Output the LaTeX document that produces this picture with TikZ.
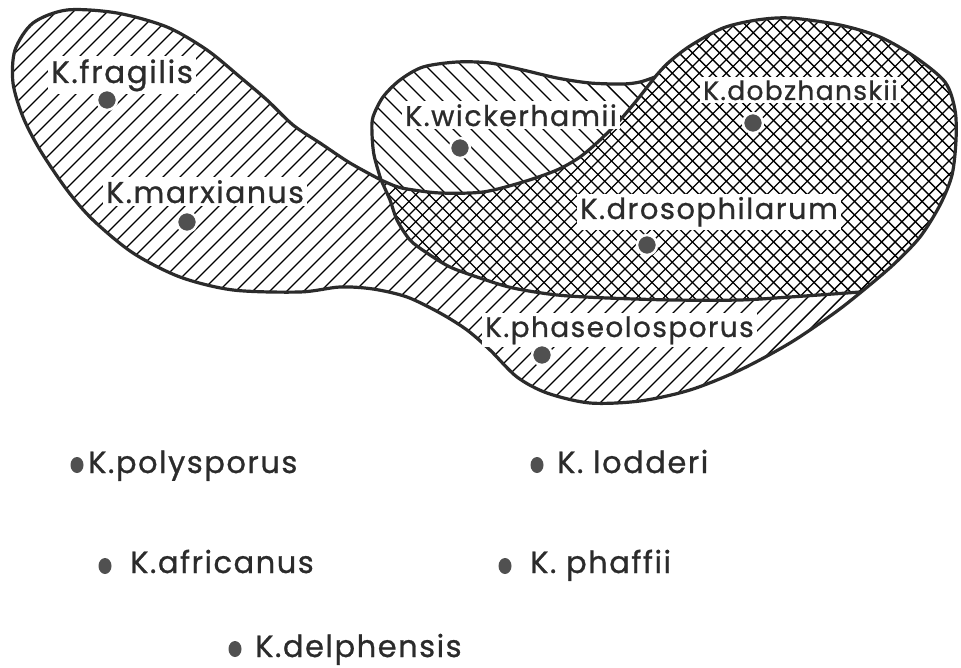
\documentclass[tikz,border=0pt]{standalone}
\usepackage{fontspec}
\usetikzlibrary{shapes.geometric}
\newfontfamily\labfont{Poppins}[LetterSpace=5, FakeBold=0.8]
\definecolor{ink}{HTML}{2B2B2B}
\definecolor{dotc}{HTML}{505050}
\begin{document}
\begin{tikzpicture}[x=1pt,y=-1pt,
  outline/.style={line width=3.2pt, draw=ink, line join=round, line cap=round},
  hatch/.style={line width=1.4pt, draw=black},
  lab/.style={fill=white, inner sep=3pt, anchor=base west, text=ink, font=\labfont\fontsize{#1}{#1}\selectfont},
  blab/.style={inner sep=0pt, anchor=base west, text=ink, font=\labfont\fontsize{#1}{#1}\selectfont},
  dot/.style={circle, fill=dotc, draw=white, line width=2.5pt, minimum size=20pt, inner sep=0pt},
  bdot/.style={ellipse, fill=dotc, minimum width=13pt, minimum height=16pt, inner sep=0pt}]
\useasboundingbox (0,0) rectangle (961,668);
\fill[white] (0,0) rectangle (961,668);
\def\Opath{plot[smooth] coordinates {(655,77) (640,82) (623,84) (590,83) (557,78) (523,70) (490,63) (457,62) (423,67) (400,80) (383,97) (373,117) (372,133) (374,155) (381,180)}
 -- plot[smooth] coordinates {(381,180) (350,163) (320,143) (293,125) (267,100) (240,77) (207,50) (167,27) (117,13) (67,10) (33,23) (15,50) (13,83) (23,117) (40,150) (67,190) (93,220) (133,253) (180,277) (233,290) (300,292) (340,287) (373,289) (407,297) (440,313) (467,330) (490,350) (517,377) (547,393) (590,403) (640,401) (690,390) (740,370) (790,343) (833,314) (860,293) (893,265) (920,237) (940,205) (952,175) (956,140) (955,110) (945,82) (915,57) (880,37) (840,25) (790,18) (757,20) (723,28) (690,46) (668,63) (655,77)} -- cycle}
\def\Wbot{plot[smooth] coordinates {(381,180) (395,186) (407,189) (440,193) (483,192) (523,182) (557,170) (580,157) (600,140) (620,120) (637,100) (655,77)}}
\def\Dros{plot[smooth] coordinates {(381,180) (390,200) (397,220) (410,240) (427,253) (450,267) (480,278) (513,288) (557,295) (607,298) (673,300) (740,300) (790,297) (833,294) (860,292)}}
\def\Dbig{plot[smooth] coordinates {(381,180) (390,200) (397,220) (410,240) (427,253) (450,267) (480,278) (513,288) (557,295) (607,298) (673,300) (740,300) (790,297) (833,294) (860,292) (990,290)} -- (990,-30) -- (345,-30) -- (362,150) -- cycle}
\def\Wbig{plot[smooth] coordinates {(381,180) (395,186) (407,189) (440,193) (483,192) (523,182) (557,170) (580,157) (600,140) (620,120) (637,100) (655,77) (670,50)} -- (690,-30) -- (345,-30) -- (362,150) -- cycle}
% region with / hatching
\begin{scope}
  \clip \Opath;
  \foreach \c in {0,17,...,1700} \draw[hatch] (\c,0) -- (\c-700,700);
\end{scope}
% cross-hatched region
\begin{scope}
  \clip \Opath;
  \clip \Dbig;
  \fill[white] (300,-50) rectangle (1000,420);
  \foreach \c in {300,313.5,...,1700} {\draw[hatch] (\c,0) -- (\c-700,700); \draw[hatch] (\c-700,0) -- (\c,700);}
\end{scope}
% wickerhamii region with \ hatching
\begin{scope}
  \clip \Opath;
  \clip \Wbig;
  \fill[white] (300,-50) rectangle (720,220);
  \foreach \c in {700,718,...,1500} \draw[hatch] (\c-700,0) -- (\c,700);
\end{scope}
% outlines
\draw[outline] \Opath;
\draw[outline] \Wbot;
\draw[outline] \Dros;
% labels and dots inside
\node[lab=31] (lfrag) at (48,83) {K.fragilis};
\node[dot] (dfrag) at (107,100) {};
\node[lab=30] (lmarx) at (103,203) {K.marxianus};
\node[dot] (dmarx) at (187,222) {};
\node[lab=28.5] (lwick) at (402,126) {K.wickerhamii};
\node[dot] (dwick) at (460,148) {};
\node[lab=26.5] (ldobz) at (700,100) {K.dobzhanskii};
\node[dot] (ddobz) at (753,123) {};
\node[lab=29] (ldros) at (577,219) {K.drosophilarum};
\node[dot] (ddros) at (647,245) {};
\node[lab=28] (lphas) at (482,337) {K.phaseolosporus};
\node[dot] (dphas) at (542,355) {};
% species outside
\node[bdot] (dpoly) at (77,465) {};
\node[blab=30.5] (lpoly) at (88,473) {K.polysporus};
\node[bdot] (dlodd) at (537,465) {};
\node[blab=30.5] (llodd) at (557,473) {K. lodderi};
\node[bdot] (dafri) at (105,566) {};
\node[blab=30.5] (lafri) at (130,573) {K.africanus};
\node[bdot] (dphaf) at (505,566) {};
\node[blab=30.5] (lphaf) at (530,573) {K. phaffii};
\node[bdot] (ddelp) at (235,649) {};
\node[blab=30.5] (ldelp) at (255,657) {K.delphensis};
\end{tikzpicture}
\end{document}
